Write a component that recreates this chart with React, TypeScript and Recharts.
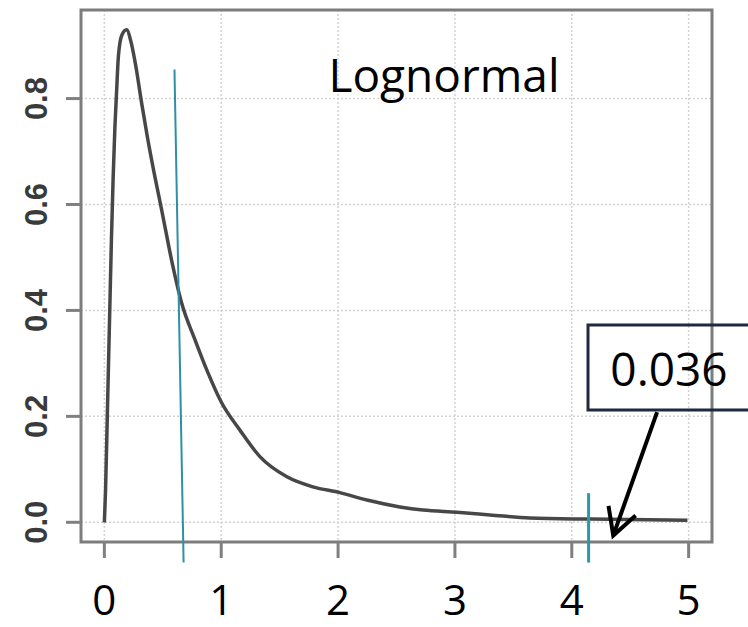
import { LineChart, Line, XAxis, YAxis, CartesianGrid, ReferenceLine, ReferenceArea, Customized } from 'recharts';

// density curve
const densityX = [0, 0.01, 0.025, 0.045, 0.06, 0.075, 0.09, 0.105, 0.12, 0.15, 0.19, 0.23, 0.27, 0.32, 0.37, 0.43, 0.49, 0.58, 0.66, 0.775, 0.887, 1.0, 1.16, 1.331, 1.562, 1.785, 2.016, 2.247, 2.529, 2.726, 3.017, 3.3, 3.64, 4.16, 4.99];
const densityY = [0, 0.06, 0.2, 0.39, 0.53, 0.65, 0.745, 0.815, 0.88, 0.92, 0.93, 0.905, 0.86, 0.79, 0.725, 0.655, 0.59, 0.49, 0.415, 0.345, 0.282, 0.227, 0.174, 0.124, 0.086, 0.067, 0.056, 0.042, 0.029, 0.023, 0.019, 0.014, 0.008, 0.006, 0.004];

const xTicks = [0, 1, 2, 3, 4, 5];
const yTicks = [0, 0.2, 0.4, 0.6, 0.8];

// teal marks and annotation
const cutoffLine = [{ x: 0.6, y: 0.855 }, { x: 0.678, y: -0.076 }];
const tailMarker = [{ x: 4.144, y: 0.055 }, { x: 4.144, y: -0.076 }];
const arrowLine = [{ x: 4.73, y: 0.208 }, { x: 4.355, y: -0.025 }];
const tailBox = { x1: 4.139, x2: 5.2, y1: 0.212, y2: 0.3725 };
const tailLabel = '0.036';
const title = 'Lognormal';

const data = densityX.map((x, i) => ({ x, y: densityY[i] }));

const XTick = ({ x, y, payload }: any) => (
    <text x={x} y={y + 57} textAnchor="middle" fontFamily="Open Sans" fontSize={42} fill="#000">
        {payload.value}
    </text>
);

const YTick = ({ x, y, payload }: any) => {
    const cx = x - 29;
    return (
        <text
            x={cx}
            y={y}
            transform={`rotate(-90, ${cx}, ${y})`}
            textAnchor="middle"
            dominantBaseline="central"
            fontFamily="Liberation Sans"
            fontWeight="bold"
            fontSize={31}
            fill="#3a3a3a"
        >
            {payload.value.toFixed(1)}
        </text>
    );
};

const Arrow = ({ x1, y1, x2, y2 }: any) => {
    const a = Math.atan2(y2 - y1, x2 - x1);
    const len = 30;
    const spread = 0.5;
    const p1 = `${x2 - len * Math.cos(a - spread)},${y2 - len * Math.sin(a - spread)}`;
    const p2 = `${x2 - len * Math.cos(a + spread)},${y2 - len * Math.sin(a + spread)}`;
    return (
        <g>
            <line x1={x1} y1={y1} x2={x2} y2={y2} stroke="#000" strokeWidth={4} />
            <polyline points={`${p1} ${x2},${y2} ${p2}`} fill="none" stroke="#000" strokeWidth={4} strokeLinejoin="miter" />
        </g>
    );
};

// box runs off the right edge of the picture, so only three sides are drawn
const LabelBox = ({ x, y, height }: any) => (
    <g>
        <path
            d={`M${x + 300},${y} H${x} V${y + height} H${x + 300}`}
            fill="none"
            stroke="#1f2940"
            strokeWidth={3}
        />
        <text x={x + 81} y={y + 61} textAnchor="middle" fontFamily="Open Sans" fontSize={46} fill="#000">
            {tailLabel}
        </text>
    </g>
);

export default function App() {
    return (
        <div style={{ position: 'absolute', left: 0, top: 0, background: '#fff', width: 748, height: 627, overflow: 'hidden' }}>
            <LineChart width={748} height={627} data={data} margin={{ top: 10, right: 36, bottom: 0, left: 0 }}>
                <CartesianGrid stroke="#d2d2d2" strokeWidth={1.5} strokeDasharray="2 2" />
                <XAxis
                    dataKey="x"
                    type="number"
                    domain={[-0.2, 5.2]}
                    ticks={xTicks}
                    allowDataOverflow
                    height={85}
                    axisLine={false}
                    tickSize={16}
                    tickMargin={0}
                    tickLine={{ stroke: '#808080', strokeWidth: 3 }}
                    tick={<XTick />}
                    interval={0}
                />
                <YAxis
                    type="number"
                    domain={[-0.0372, 0.9672]}
                    ticks={yTicks}
                    allowDataOverflow
                    width={81}
                    axisLine={false}
                    tickSize={15}
                    tickMargin={0}
                    tickLine={{ stroke: '#808080', strokeWidth: 3 }}
                    tick={<YTick />}
                    interval={0}
                />
                <ReferenceArea
                    x1={-0.2}
                    x2={5.2}
                    y1={-0.0372}
                    y2={0.9672}
                    fill="none"
                    stroke="#7d7d7d"
                    strokeWidth={3}
                    ifOverflow="visible"
                />
                <Line
                    dataKey="y"
                    type="monotone"
                    stroke="#474747"
                    strokeWidth={3.5}
                    dot={false}
                    isAnimationActive={false}
                />
                <ReferenceLine segment={cutoffLine} stroke="#2e8fa6" strokeWidth={2} ifOverflow="visible" />
                <ReferenceLine segment={tailMarker} stroke="#2e96ac" strokeWidth={3} ifOverflow="visible" />
                <ReferenceArea
                    x1={tailBox.x1}
                    x2={tailBox.x2}
                    y1={tailBox.y1}
                    y2={tailBox.y2}
                    ifOverflow="visible"
                    shape={<LabelBox />}
                />
                <ReferenceLine segment={arrowLine} ifOverflow="visible" shape={(p: any) => <Arrow {...p} />} />
                <Customized
                    component={() => (
                        <text x={444} y={92} textAnchor="middle" fontFamily="Open Sans" fontSize={46} fill="#000">
                            {title}
                        </text>
                    )}
                />
            </LineChart>
        </div>
    );
}
